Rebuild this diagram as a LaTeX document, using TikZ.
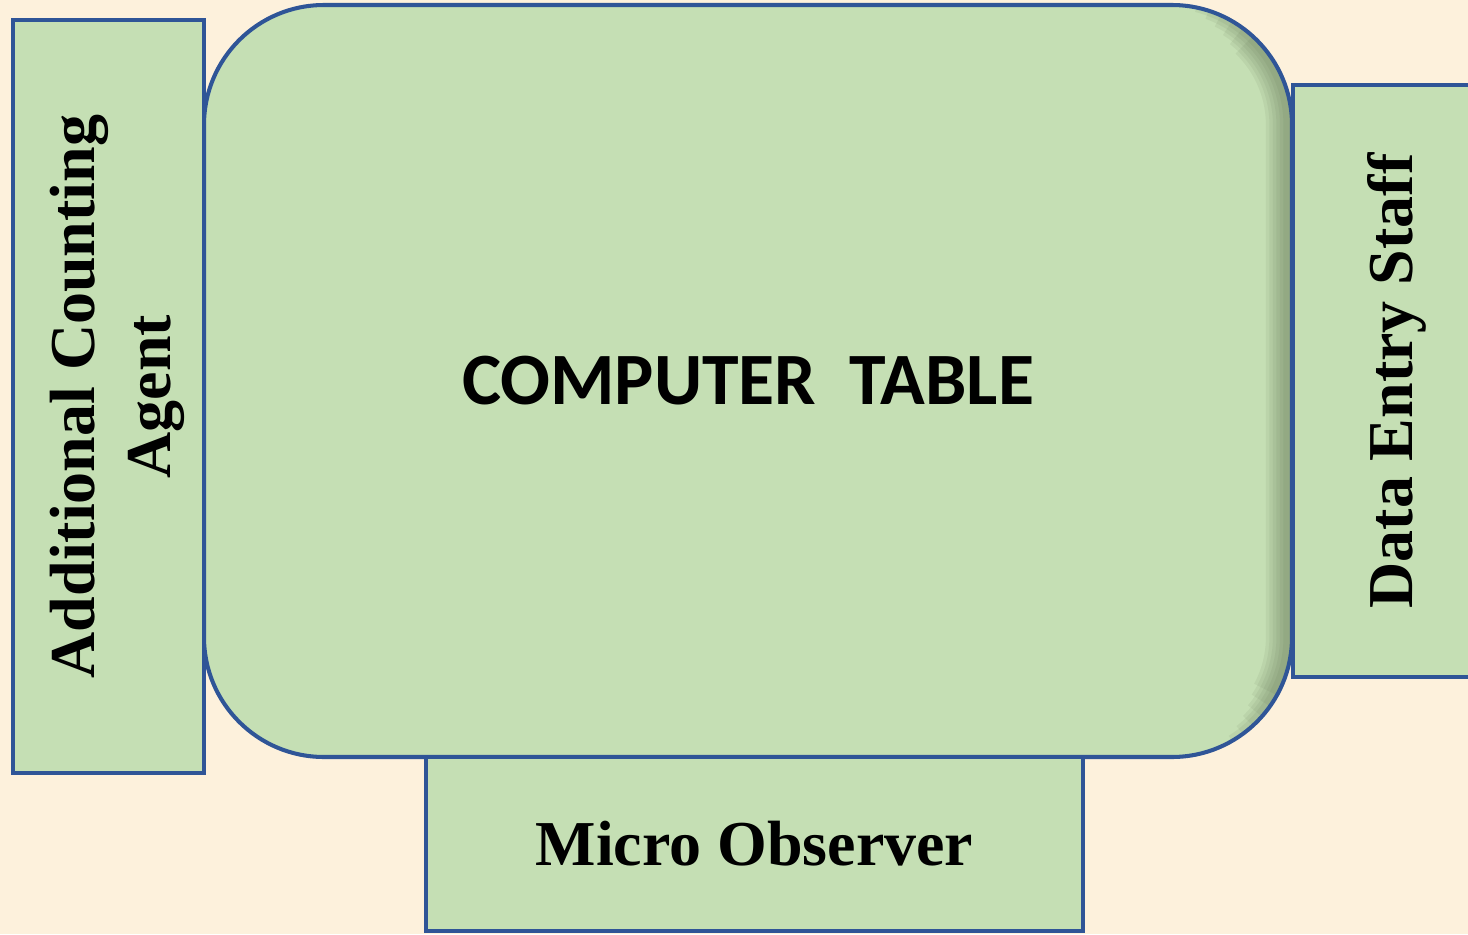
\documentclass[tikz,border=0pt]{standalone}
\usepackage{fontspec}
\setmainfont{Liberation Serif}
\newfontfamily\tablefont{Carlito}
\usepackage{tikz}
\usetikzlibrary{calc,positioning}
\definecolor{paper}{HTML}{FDF1DC}
\definecolor{leaf}{HTML}{C5DFB4}
\definecolor{rim}{HTML}{2F5597}
\definecolor{shade}{HTML}{3E4F30}
\tikzset{
  seat/.style={draw=rim, fill=leaf, line width=1.15pt, inner sep=0pt, align=center,
               font=\bfseries\fontsize{18.2}{21.5}\selectfont},
  desk/.style={draw=rim, fill=leaf, line width=1.15pt, rounded corners=1.2cm,
               minimum width=10.88cm, minimum height=7.52cm,
               font=\tablefont\bfseries\fontsize{21}{24}\selectfont},
  innershade/.style={draw=shade, opacity=0.07, sharp corners}
}
\begin{document}
\begin{tikzpicture}
  % page and background
  \fill[paper] (0,0) rectangle (14.68,9.34);
  \useasboundingbox (0,0) rectangle (14.68,9.34);

  \node[seat, minimum width=1.97cm, minimum height=5.92cm] (staff) at (13.915,5.53)
    {\hspace*{3pt}\rotatebox{90}{Data Entry Staff}};

  % table, with a soft shadow inside its right edge
  \node[desk, path picture={
      \coordinate (ne) at (path picture bounding box.north east);
      \foreach \w in {2,4,...,12}
        \draw[innershade, line width=\w pt]
          ($(ne)+(-1.25,-1.2)+({82-3*\w}:1.2)$) arc[start angle={82-3*\w}, end angle=0, radius=1.2]
          -- ++(0,-5.12) arc[start angle=0, end angle={-64+3*\w}, radius=1.2];
    }] (table) at (7.48,5.53) {COMPUTER\ \ TABLE};

  \node[seat, minimum width=1.91cm, minimum height=7.53cm] (agent) at (1.085,5.375)
    {\hspace*{5pt}\rotatebox{90}{\begin{tabular}{c}Additional Counting\\Agent\end{tabular}}};
  \node[seat, minimum width=6.57cm, minimum height=1.74cm] (observer) at (7.545,0.9)
    {\raisebox{-1pt}{Micro Observer}};
\end{tikzpicture}
\end{document}
